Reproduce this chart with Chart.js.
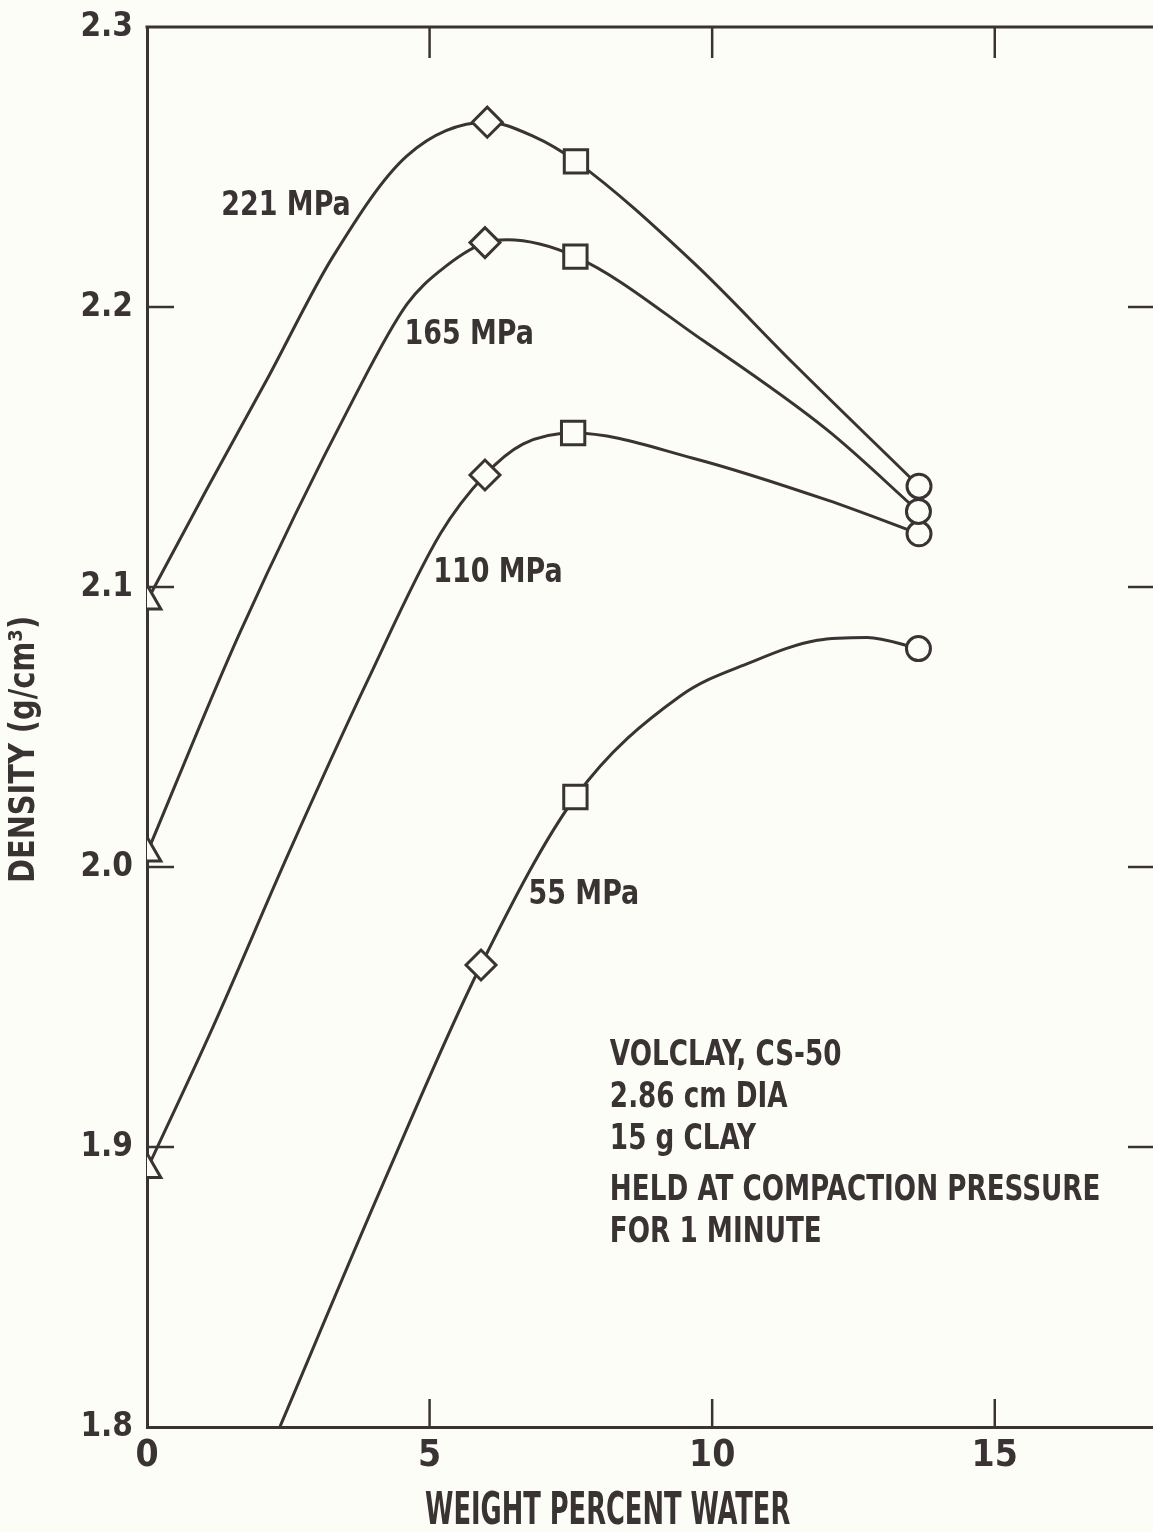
<!DOCTYPE html>
<html><head><meta charset="utf-8">
<script src="https://cdn.jsdelivr.net/npm/chart.js@4/dist/chart.umd.min.js"></script>
<style>html,body{margin:0;padding:0;background:#fdfdf8;overflow:hidden}
#wrap{position:relative;width:1153px;height:1532px}
canvas{display:block}</style></head>
<body><div id="wrap"><canvas id="c" width="1153" height="1532" style="width:1153px;height:1532px"></canvas></div>
<script>
const FONT = "'DejaVu Sans Condensed','Liberation Sans Narrow','DejaVu Sans',sans-serif";
const INK = '#3a3333';
const BG = '#fdfdf8';

// ---- data ----
const xTickValues = [0, 5, 10, 15];
const yTickValues = [1.8, 1.9, 2.0, 2.1, 2.2, 2.3];
const seriesLabels = ['221 MPa', '165 MPa', '110 MPa', '55 MPa'];

// measured points (with markers)
const water221 = [0, 6.02, 7.59, 13.66];
const density221 = [2.095, 2.266, 2.252, 2.136];
const marks221 = ['triangle', 'diamond', 'square', 'circle'];

const water165 = [0, 5.98, 7.58, 13.65];
const density165 = [2.005, 2.223, 2.218, 2.127];
const marks165 = ['triangle', 'diamond', 'square', 'circle'];

const water110 = [0, 5.98, 7.54, 13.66];
const density110 = [1.892, 2.140, 2.155, 2.119];
const marks110 = ['triangle', 'diamond', 'square', 'circle'];

const water55 = [5.91, 7.58, 13.65];
const density55 = [1.965, 2.025, 2.078];
const marks55 = ['diamond', 'square', 'circle'];

// points
const curveX221 = [1.06, 2.12, 3.29, 4.60, 6.83, 9.66, 11.43];
const curveY221 = [2.135, 2.174, 2.218, 2.254, 2.261, 2.216, 2.180];
const curveX165 = [1.65, 3.65, 4.60, 5.19, 6.37, 9.84, 12.04];
const curveY165 = [2.084, 2.167, 2.201, 2.213, 2.224, 2.188, 2.156];
const curveX110 = [1.17, 2.53, 3.89, 5.19, 6.65, 9.66, 12.04];
const curveY110 = [1.943, 2.006, 2.066, 2.119, 2.151, 2.146, 2.131];
const curveX55 = [2.35, 4.18, 9.43, 10.67, 11.86, 12.74];
const curveY55 = [1.800, 1.887, 2.061, 2.073, 2.081, 2.082];

// text labels (data coordinates)
const labelX = [2.46, 5.70, 6.21, 7.73];
const labelY = [2.236, 2.190, 2.105, 1.990];
const noteLines = ['VOLCLAY, CS-50', '2.86 cm DIA', '15 g CLAY', 'HELD AT COMPACTION PRESSURE', 'FOR 1 MINUTE'];
const noteX = 8.19;
const noteY = [1.9325, 1.9175, 1.9025, 1.8843, 1.8693];
const xTitle = 'WEIGHT PERCENT WATER';
const yTitle = 'DENSITY (g/cm³)';

// ---- build ----
const styleMap = {triangle: ['triangle', 16], diamond: ['rectRot', 15], square: ['rect', 16.5], circle: ['circle', 12]};
function pts(xs, ys) { return xs.map((x, i) => ({x, y: ys[i]})); }
function merged(a, b) { return a.concat(b).sort((p, q) => p.x - q.x); }

const measured = [
  [water221, density221, marks221, curveX221, curveY221],
  [water165, density165, marks165, curveX165, curveY165],
  [water110, density110, marks110, curveX110, curveY110],
  [water55, density55, marks55, curveX55, curveY55]
];

const datasets = [];
measured.forEach((m, k) => {
  const marks = m[2];
  datasets.push({
    type: 'scatter', label: seriesLabels[k] + ' points', data: pts(m[0], m[1]), order: 0,
    showLine: false, pointStyle: marks.map(s => styleMap[s][0]), pointRadius: marks.map(s => styleMap[s][1]),
    pointBorderWidth: 3, pointBorderColor: INK, pointBackgroundColor: BG,
    clip: {left: 0, top: 30, right: 30, bottom: 0}
  });
});
measured.forEach((m, k) => {
  datasets.push({
    type: 'line', label: seriesLabels[k], data: merged(pts(m[0], m[1]), pts(m[3], m[4])), order: 1,
    borderColor: INK, borderWidth: 3, pointRadius: 0, cubicInterpolationMode: 'monotone', fill: false
  });
});

function condensedText(ctx, text, x, y, sx, align) {
  ctx.save();
  ctx.translate(x, y);
  ctx.scale(sx, 1);
  ctx.textAlign = align;
  ctx.fillText(text, 0, 0);
  ctx.restore();
}

const framePlugin = {
  id: 'frame',
  afterDraw(chart) {
    const {ctx, chartArea: a, scales: {x, y}} = chart;
    ctx.save();
    ctx.strokeStyle = INK; ctx.lineWidth = 3; ctx.lineCap = 'butt';
    ctx.beginPath(); ctx.moveTo(a.left - 1.5, a.top); ctx.lineTo(a.right, a.top); ctx.stroke();
    ctx.lineWidth = 2.5;
    xTickValues.filter(v => v > 0).forEach(v => {
      const px = x.getPixelForValue(v);
      ctx.beginPath(); ctx.moveTo(px, a.top); ctx.lineTo(px, a.top + 31); ctx.stroke();
      ctx.beginPath(); ctx.moveTo(px, a.bottom); ctx.lineTo(px, a.bottom - 28); ctx.stroke();
    });
    yTickValues.filter(v => v > 1.85 && v < 2.25).forEach(v => {
      const py = y.getPixelForValue(v);
      ctx.beginPath(); ctx.moveTo(a.left, py); ctx.lineTo(a.left + 27, py); ctx.stroke();
      ctx.beginPath(); ctx.moveTo(a.right, py); ctx.lineTo(a.right - 25, py); ctx.stroke();
    });
    ctx.fillStyle = INK;
    ctx.textBaseline = 'middle';
    ctx.font = 'bold 34px ' + FONT;
    seriesLabels.forEach((t, i) => condensedText(ctx, t, x.getPixelForValue(labelX[i]), y.getPixelForValue(labelY[i]), 0.88, 'center'));
    ctx.font = 'bold 36px ' + FONT;
    noteLines.forEach((t, i) => condensedText(ctx, t, x.getPixelForValue(noteX), y.getPixelForValue(noteY[i]), 0.81, 'left'));
    // axis titles
    ctx.font = 'bold 44px ' + FONT;
    condensedText(ctx, xTitle, x.getPixelForValue(8.15), a.bottom + 86, 0.65, 'center');
    ctx.save();
    ctx.translate(25, y.getPixelForValue(2.042));
    ctx.rotate(-Math.PI / 2);
    ctx.font = 'bold 36px ' + FONT;
    condensedText(ctx, yTitle, 0, 0, 0.89, 'center');
    ctx.restore();
    ctx.restore();
  }
};

Chart.defaults.font.family = FONT;
Chart.defaults.color = INK;

new Chart(document.getElementById('c'), {
  data: {datasets},
  options: {
    responsive: false, animation: false, devicePixelRatio: 1,
    layout: {autoPadding: false, padding: {top: 27, right: 0, left: 0, bottom: 0}},
    plugins: {legend: {display: false}, tooltip: {enabled: false}},
    scales: {
      x: {
        type: 'linear', min: 0, max: 17.8,
        afterBuildTicks: s => { s.ticks = xTickValues.map(v => ({value: v})); },
        afterFit: s => { s.height = 105; s.paddingLeft = 0; s.paddingRight = 0; },
        grid: {display: false, drawTicks: false},
        border: {display: true, color: INK, width: 3},
        ticks: {font: {family: FONT, size: 37, weight: 'bold'}, color: INK, padding: 7, maxRotation: 0, autoSkip: false, callback: v => String(v)},
        title: {display: false, text: xTitle}
      },
      y: {
        type: 'linear', min: 1.8, max: 2.3,
        afterBuildTicks: s => { s.ticks = yTickValues.map(v => ({value: v})); },
        afterFit: s => { s.width = 147; s.paddingTop = 0; s.paddingBottom = 0; },
        grid: {display: false, drawTicks: false},
        border: {display: true, color: INK, width: 3},
        ticks: {font: {family: FONT, size: 33, weight: 'bold'}, color: INK, padding: 14, autoSkip: false, callback: v => Number(v).toFixed(1)},
        title: {display: false, text: yTitle}
      }
    }
  },
  plugins: [framePlugin, {id: 'bg', beforeDraw(c) { const x = c.ctx; x.save(); x.fillStyle = BG; x.fillRect(0, 0, c.width, c.height); x.restore(); }}]
});
</script>
</body></html>
